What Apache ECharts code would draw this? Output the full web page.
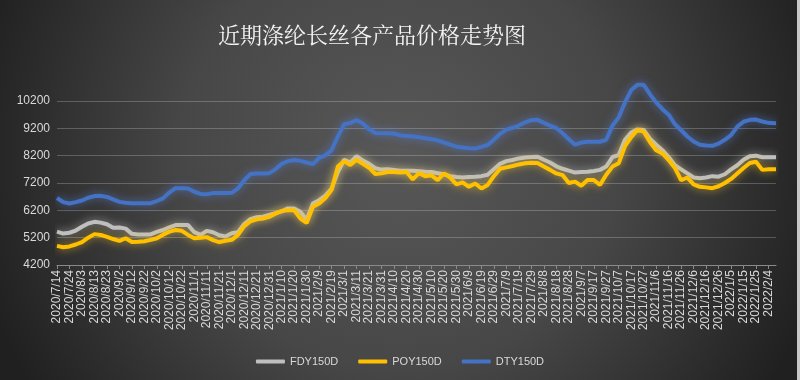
<!DOCTYPE html>
<html>
<head>
<meta charset="utf-8">
<script src="https://cdn.jsdelivr.net/npm/echarts@6/dist/echarts.min.js"></script>
<style>html,body{margin:0;padding:0;background:#333;}#c{width:800px;height:380px;}</style>
</head>
<body>
<div id="c"></div>
<script>
const dates = ['2020/7/14','2020/7/19','2020/7/24','2020/7/29','2020/8/3','2020/8/8','2020/8/13','2020/8/18','2020/8/23','2020/8/28',
'2020/9/2','2020/9/7','2020/9/12','2020/9/17','2020/9/22','2020/9/27','2020/10/2','2020/10/7','2020/10/12','2020/10/17',
'2020/10/22','2020/10/27','2020/11/1','2020/11/6','2020/11/11','2020/11/16','2020/11/21','2020/11/26','2020/12/1','2020/12/6',
'2020/12/11','2020/12/16','2020/12/21','2020/12/26','2020/12/31','2021/1/5','2021/1/10','2021/1/15','2021/1/20','2021/1/25',
'2021/1/30','2021/2/4','2021/2/9','2021/2/14','2021/2/19','2021/2/24','2021/3/1','2021/3/6','2021/3/11','2021/3/16',
'2021/3/21','2021/3/26','2021/3/31','2021/4/5','2021/4/10','2021/4/15','2021/4/20','2021/4/25','2021/4/30','2021/5/5',
'2021/5/10','2021/5/15','2021/5/20','2021/5/25','2021/5/30','2021/6/4','2021/6/9','2021/6/14','2021/6/19','2021/6/24',
'2021/6/29','2021/7/4','2021/7/9','2021/7/14','2021/7/19','2021/7/24','2021/7/29','2021/8/3','2021/8/8','2021/8/13',
'2021/8/18','2021/8/23','2021/8/28','2021/9/2','2021/9/7','2021/9/12','2021/9/17','2021/9/22','2021/9/27','2021/10/2',
'2021/10/7','2021/10/12','2021/10/17','2021/10/22','2021/10/27','2021/11/1','2021/11/6','2021/11/11','2021/11/16','2021/11/21',
'2021/11/26','2021/12/1','2021/12/6','2021/12/11','2021/12/16','2021/12/21','2021/12/26','2021/12/31','2022/1/5','2022/1/10',
'2022/1/15','2022/1/20','2022/1/25','2022/1/30','2022/2/4','2022/2/9','2022/2/10'];

const fdy150d = [5420,5350,5380,5460,5600,5720,5780,5750,5690,5560,
5570,5530,5340,5320,5320,5320,5410,5480,5580,5660,
5660,5660,5400,5300,5450,5400,5290,5240,5360,5400,
5700,5880,5950,5970,6030,6100,6160,6270,6270,6150,
5850,6450,6570,6740,7000,7600,8050,7950,8180,8020,
7900,7740,7690,7700,7680,7650,7650,7650,7630,7610,
7600,7560,7520,7450,7420,7400,7420,7430,7450,7500,
7700,7900,8000,8040,8100,8130,8150,8160,8050,7950,
7810,7720,7650,7580,7600,7610,7640,7680,7800,8150,
8220,8780,9050,9160,9140,8820,8600,8400,8150,7850,
7700,7550,7400,7370,7400,7450,7430,7520,7700,7850,
8050,8180,8200,8140,8140,8140,8140];

const poy150d = [4900,4850,4880,4950,5040,5200,5330,5300,5230,5150,
5080,5180,5040,5050,5070,5120,5180,5310,5420,5480,
5450,5300,5180,5200,5220,5110,5040,5090,5120,5300,
5620,5800,5870,5900,5960,6080,6180,6200,6200,5900,
5740,6330,6450,6650,6950,7800,8000,7860,8050,7900,
7760,7530,7560,7600,7600,7580,7600,7330,7560,7450,
7480,7300,7550,7400,7150,7220,7060,7180,7000,7130,
7450,7720,7770,7820,7880,7920,7940,7930,7800,7680,
7550,7490,7200,7250,7100,7310,7310,7130,7500,7800,
7920,8550,8880,9140,9080,8700,8400,8280,8040,7750,
7300,7400,7150,7060,7040,7010,7080,7200,7350,7550,
7750,7930,7980,7680,7700,7700,7700];

const dty150d = [6650,6500,6450,6500,6560,6660,6720,6730,6690,6600,
6510,6480,6460,6460,6460,6460,6540,6640,6850,7010,
7010,7000,6880,6800,6790,6830,6830,6830,6840,7000,
7300,7530,7550,7550,7560,7700,7900,8000,8040,8010,
7950,7890,8120,8210,8400,8900,9350,9400,9500,9380,
9170,9030,9020,9020,9010,8940,8920,8900,8870,8840,
8800,8760,8680,8600,8530,8500,8470,8460,8520,8590,
8780,9000,9150,9220,9300,9420,9500,9510,9400,9300,
9210,9020,8800,8600,8680,8710,8710,8710,8780,9300,
9600,10150,10600,10790,10790,10450,10150,9900,9700,9350,
9130,8900,8720,8600,8570,8560,8640,8780,8950,9260,
9440,9510,9520,9450,9400,9390,9390];

const seriesNames = ['FDY150D', 'POY150D', 'DTY150D'];
const yTicks = [4200, 5200, 6200, 7200, 8200, 9200, 10200];
const titleText = '近期涤纶长丝各产品价格走势图';

const DAY = 86400000;
function toUTC(s) { const p = s.split('/').map(Number); return Date.UTC(p[0], p[1] - 1, p[2]); }
const t0 = toUTC(dates[0]);
const dayOf = s => Math.round((toUTC(s) - t0) / DAY);
const lastDay = dayOf(dates[dates.length - 1]);
function fmt(v) {
  const d = new Date(t0 + v * DAY);
  return d.getUTCFullYear() + '/' + (d.getUTCMonth() + 1) + '/' + d.getUTCDate();
}
const pairs = vals => dates.map((s, i) => [dayOf(s), vals[i]]);

const colors = ['#bfbfbf', '#ffc000', '#4472c4'];
const glows = ['rgba(215,215,215,0.6)', 'rgba(255,205,40,0.65)', 'rgba(90,130,220,0.65)'];
const vals = [fdy150d, poy150d, dty150d];

const chart = echarts.init(document.getElementById('c'), null, { renderer: 'canvas' });
chart.setOption({
  backgroundColor: {
    type: 'radial', x: 0.5, y: 0.4, r: 1.15,
    colorStops: [{ offset: 0, color: '#585858' }, { offset: 0.5, color: '#474747' }, { offset: 1, color: '#202020' }]
  },
  animation: false,
  title: {
    text: titleText, left: 372, top: 24, textAlign: 'center', padding: 0,
    textStyle: { color: '#f4f4f4', fontSize: 22, fontWeight: 'normal', fontFamily: '"Noto Serif CJK SC","Noto Sans CJK SC",serif' }
  },
  legend: {
    data: seriesNames, left: 'center', top: 351, itemGap: 20, itemWidth: 29, itemHeight: 4, icon: 'roundRect',
    textStyle: { color: '#d9d9d9', fontSize: 11, fontFamily: '"Liberation Sans",Arial,sans-serif' }
  },
  grid: { left: 57, right: 24, top: 101, bottom: 115 },
  xAxis: {
    type: 'value', min: 0, max: lastDay, interval: 10,
    axisLine: { lineStyle: { color: '#8a8a8a', width: 1 } },
    axisTick: { show: true, length: 4, lineStyle: { color: '#8a8a8a' } },
    splitLine: { show: false },
    axisLabel: {
      rotate: 90, color: '#d9d9d9', fontSize: 12, margin: 5, showMaxLabel: false,
      fontFamily: '"Liberation Sans",Arial,sans-serif',
      formatter: v => (v % 10 === 0 ? fmt(v) : '')
    }
  },
  yAxis: {
    type: 'value', min: yTicks[0], max: yTicks[yTicks.length - 1], interval: 1000,
    axisLine: { show: false }, axisTick: { show: false },
    splitLine: { lineStyle: { color: 'rgba(255,255,255,0.22)', width: 1 } },
    axisLabel: { color: '#d9d9d9', fontSize: 12, margin: 7, fontFamily: '"Liberation Sans",Arial,sans-serif',
      formatter: v => String(v) }
  },
  series: seriesNames.map((n, i) => ({
    name: n, type: 'line', data: pairs(vals[i]), showSymbol: false, clip: false, smooth: false,
    color: colors[i],
    lineStyle: { width: 4, color: colors[i], shadowBlur: 8, shadowColor: glows[i] }
  })),
  graphic: [{ type: 'rect', right: 0, top: 0, shape: { width: 3, height: 380 }, style: { fill: '#c8c8c8' }, silent: true }]
});
</script>
</body>
</html>
